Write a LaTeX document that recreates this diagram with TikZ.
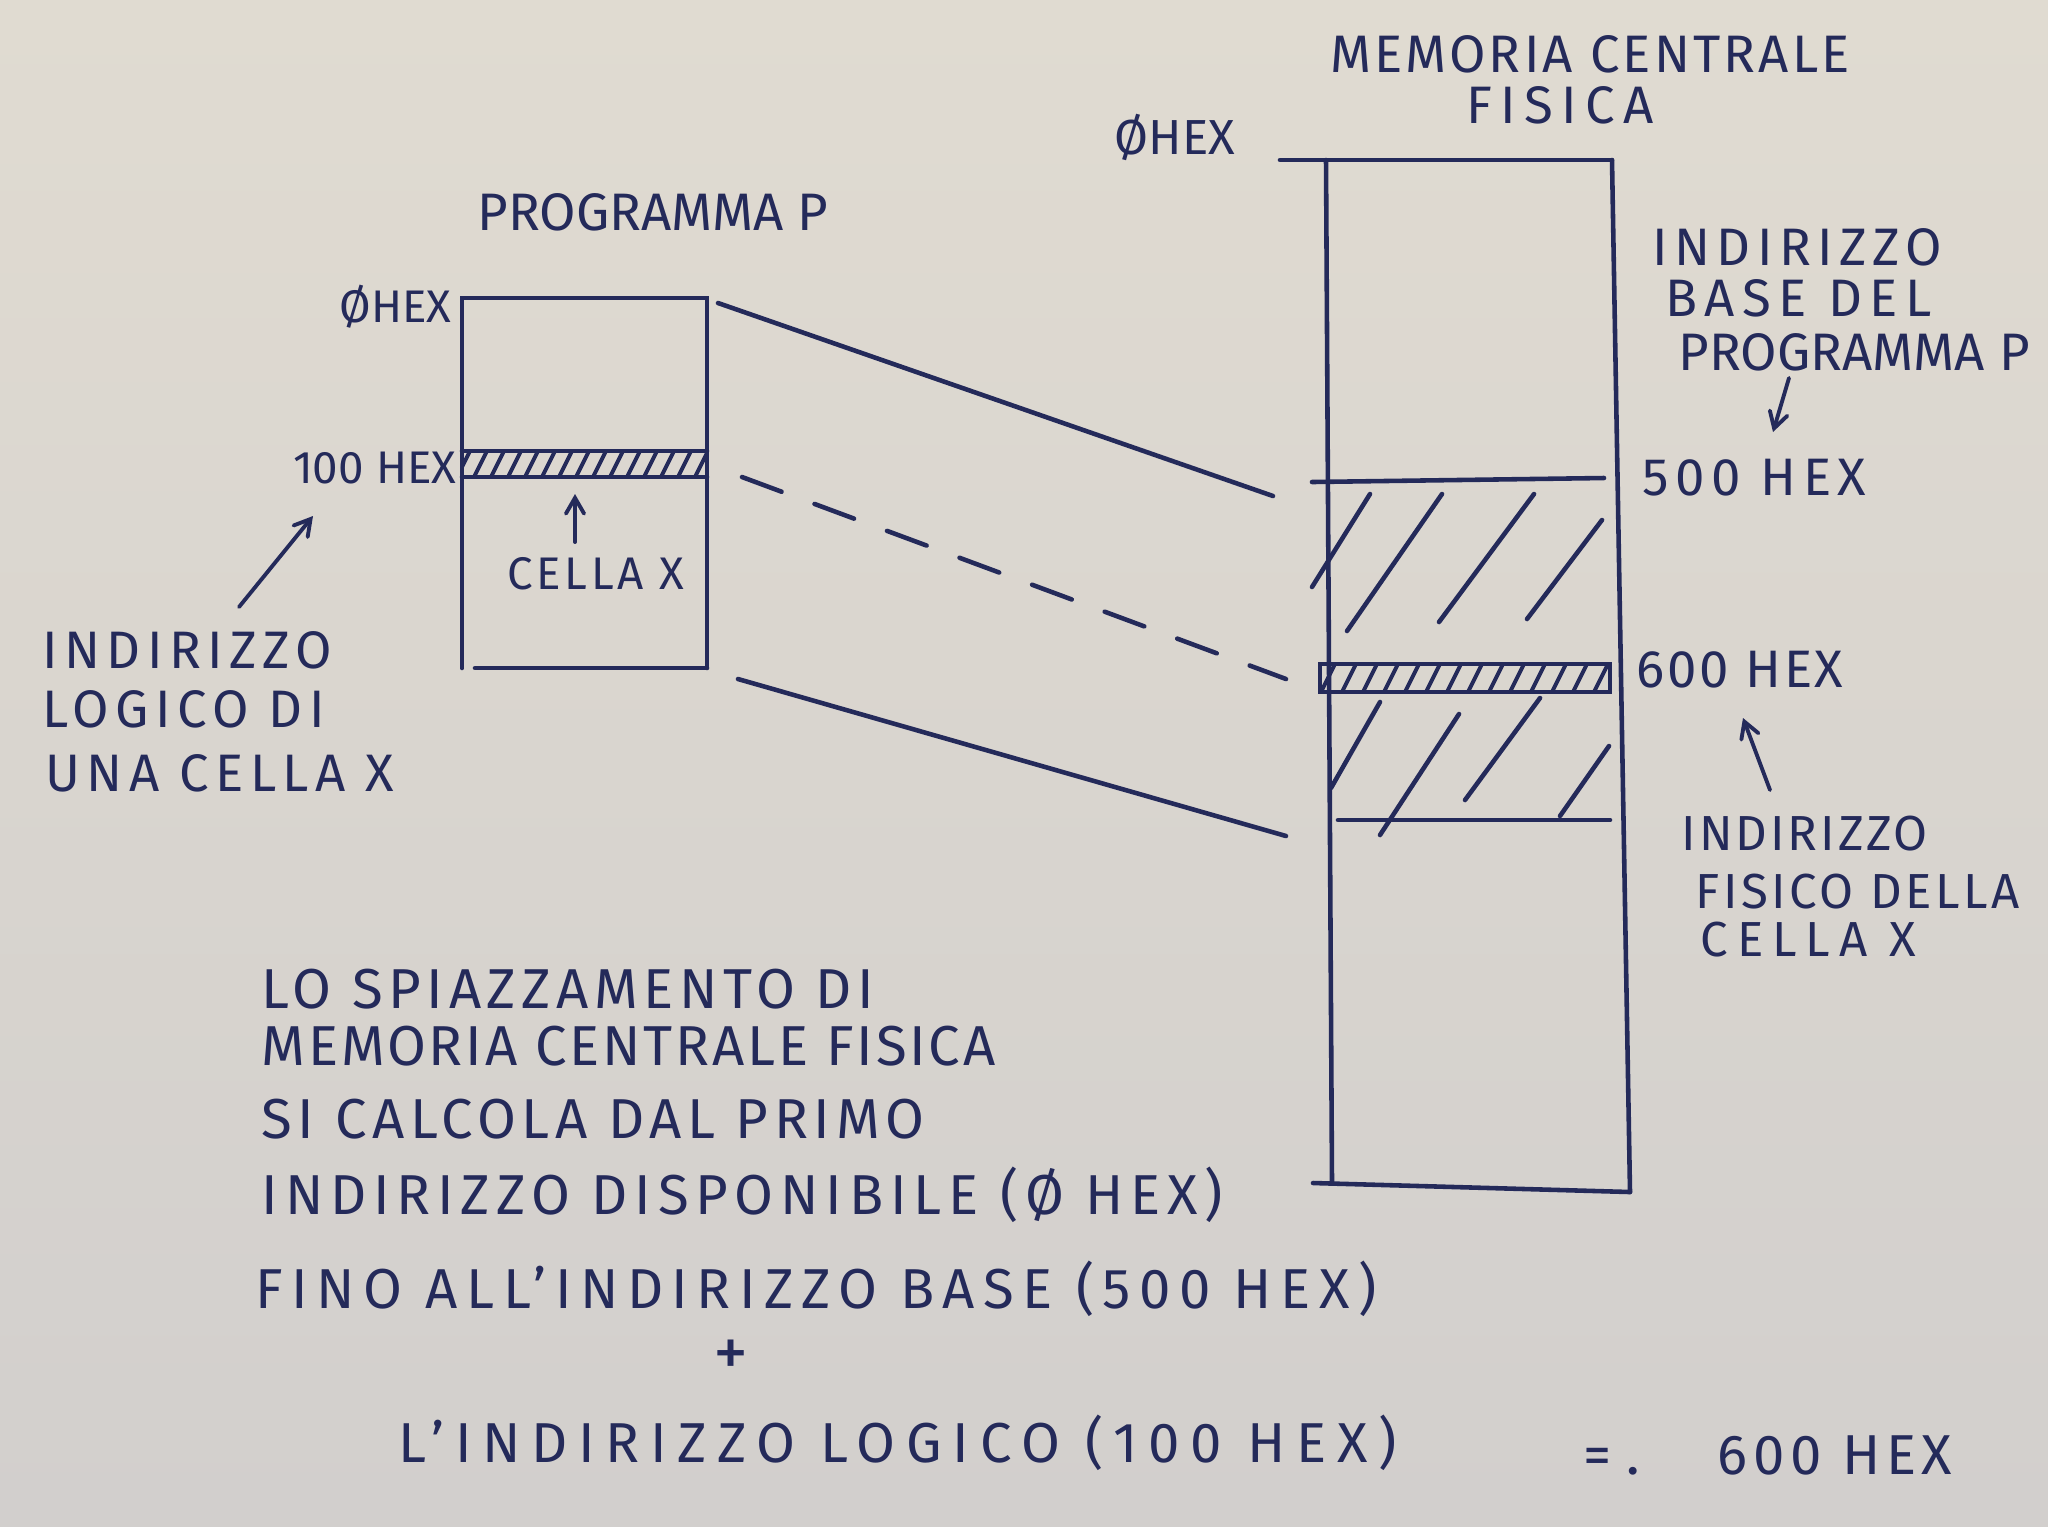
\documentclass[tikz,border=0pt]{standalone}
\usepackage{fontspec}
\setmainfont{Fira Sans}
\usepackage{tikz}
\usetikzlibrary{positioning,arrows,calc}
\definecolor{ink}{RGB}{36,42,90}
\definecolor{paper}{RGB}{224,219,209}
\definecolor{paperlow}{RGB}{210,207,205}
\tikzset{
  pen/.style={draw=ink, line width=1.3pt, line cap=round},
  hatch/.style={draw=ink, line width=1.1pt, line cap=round},
  link/.style={draw=ink, line width=1.3pt, line cap=round},
  dashlink/.style={draw=ink, line width=1.3pt, line cap=round, dash pattern=on 12pt off 10pt},
  pointer/.style={draw=ink, line width=1.1pt, line cap=round, -angle 60},
  lbl/.style={text=ink, inner sep=0pt, font=\fontsize{13}{16}\selectfont\addfontfeature{LetterSpace=#1}},
  lbl/.default=0,
  midlbl/.style={text=ink, inner sep=0pt, anchor=west, font=\fontsize{14}{16}\selectfont\addfontfeature{LetterSpace=#1}},
  midlbl/.default=0,
  biglbl/.style={text=ink, inner sep=0pt, font=\fontsize{15}{17}\selectfont\addfontfeature{LetterSpace=#1}},
  biglbl/.default=0,
  txt/.style={text=ink, inner sep=0pt, anchor=west, font=\fontsize{16}{19}\selectfont\addfontfeature{LetterSpace=#1}},
  txt/.default=0
}

\begin{document}
\begin{tikzpicture}[x=0.01cm, y=-0.01cm]
    \shade[top color=paper, bottom color=paperlow] (0,0) rectangle (2048,1526);

    % programma P (logical)
    \coordinate (p0) at (462,298); \coordinate (p1) at (707,298);
    \coordinate (p2) at (707,668); \coordinate (p3) at (462,668);
    \coordinate (s0) at (462,451); \coordinate (s1) at (707,477);

    \node[biglbl] (titP) at (653,212) {PROGRAMMA P};
    \node[lbl, anchor=east] (zeroP) at (452,307) {ØHEX};
    \node[lbl, anchor=east] (centoP) at (457,468) {100 HEX};
    \node[lbl=8] (cellaP) at (596,574) {CELLA X};
    \node[biglbl=12, anchor=west] (log1) at (42,650) {INDIRIZZO};
    \node[biglbl=12, anchor=west] (log2) at (42,709) {LOGICO DI};
    \node[biglbl=12, anchor=west] (log3) at (45,773) {UNA CELLA X};

    \draw[pen] (p3) -- (p0) -- (p1) -- (p2);
    \draw[pen] ([xshift=0.13cm]p3) -- (p2);
    \begin{scope}
      \clip (s0) rectangle (s1);
      \foreach \x in {440,457,...,720}
        \draw[hatch] (\x,477) -- (\x+13,451);
    \end{scope}
    \draw[pen] (s0) -- (s0 -| p1);
    \draw[pen] (s1 -| p0) -- (s1);

    % memoria centrale fisica
    \coordinate (m0) at (1326,160); \coordinate (m1) at (1612,160);
    \coordinate (m2) at (1630,1192); \coordinate (m3) at (1332,1182);
    \coordinate (c0) at (1320,664); \coordinate (c1) at (1610,692);
    \coordinate (fine) at (1338,820);

    \node[biglbl=6] (titM) at (1590,54) {MEMORIA CENTRALE};
    \node[biglbl=16] (titM2) at (1560,105) {FISICA};
    \node[midlbl, anchor=east] (zeroM) at (1236,137) {ØHEX};
    \node[biglbl=12, anchor=west] (cinque) at (1642,478) {500 HEX};
    \node[biglbl=5, anchor=west] (sei) at (1636,670) {600 HEX};
    \node[biglbl=12, anchor=west] (base1) at (1652,247) {INDIRIZZO};
    \node[biglbl=14, anchor=west] (base2) at (1665,298) {BASE DEL};
    \node[biglbl, anchor=west] (base3) at (1678,352) {PROGRAMMA P};
    \node[midlbl=6] (fis1) at (1681,834) {INDIRIZZO};
    \node[midlbl=7] (fis2) at (1695,892) {FISICO DELLA};
    \node[midlbl=18] (fis3) at (1700,940) {CELLA X};

    \draw[pen] (1280,160) -- (m1);
    \draw[pen] (m0) -- (m3);
    \draw[pen] (m1) -- (m2);
    \draw[pen] (1313,1183) -- (m2);
    \draw[pen] (1312,482) -- (1604,478);
    \draw[pen] (fine) -- (1610,820);

    % sparse hatching 500..700
    \foreach \a/\b/\c/\d in {1312/587/1370/494, 1347/631/1442/494,
        1439/622/1534/494, 1527/619/1602/520, 1331/788/1380/702,
        1380/835/1459/714, 1465/800/1540/698, 1560/816/1609/746}
      \draw[pen] (\a,\b) -- (\c,\d);

    % cella x in memoria
    \begin{scope}
      \clip (c0) rectangle (c1);
      \foreach \x in {1300,1321,...,1620}
        \draw[hatch] (\x,692) -- (\x+14,664);
    \end{scope}
    \draw[pen] (c0) rectangle (c1);

    % corrispondenze
    \coordinate (q0) at (718,303); \coordinate (r0) at (1273,496);
    \coordinate (q1) at (742,477); \coordinate (r1) at (1286,679);
    \coordinate (q2) at (738,679); \coordinate (r2) at (1286,836);
    \draw[link] (q0) -- (r0);
    \draw[dashlink] (q1) -- (r1);
    \draw[link] (q2) -- (r2);

    % frecce
    \coordinate (f0) at (239,607); \coordinate (g0) at (313,516);
    \coordinate (f1) at (575,542); \coordinate (g1) at (575,494);
    \coordinate (f2) at (1789,378); \coordinate (g2) at (1773,432);
    \coordinate (f3) at (1770,790); \coordinate (g3) at (1743,718);
    \draw[pointer] (f0) -- (g0);
    \draw[pointer] (f1) -- (g1);
    \draw[pointer] (f2) -- (g2);
    \draw[pointer] (f3) -- (g3);

    % spiegazione
    \node[txt=10] (r1t) at (261,989) {LO SPIAZZAMENTO DI};
    \node[txt=5] (r2t) at (261,1046) {MEMORIA CENTRALE FISICA};
    \node[txt=10] (r3t) at (261,1119) {SI CALCOLA DAL PRIMO};
    \node[txt=12] (r4t) at (261,1195) {INDIRIZZO DISPONIBILE (Ø HEX)};
    \node[txt=15] (r5t) at (255,1289) {FINO ALL'INDIRIZZO BASE (500 HEX)};
    \node[txt, anchor=center, font=\fontsize{20}{22}\selectfont] (piu) at (731,1358) {+};
    \node[txt=19] (r6t) at (398,1443) {L'INDIRIZZO LOGICO (100 HEX)};
    \node[txt] (uguale) at (1583,1462) {= .};
    \node[txt=10] (ris) at (1717,1455) {600 HEX};
\end{tikzpicture}
\end{document}
